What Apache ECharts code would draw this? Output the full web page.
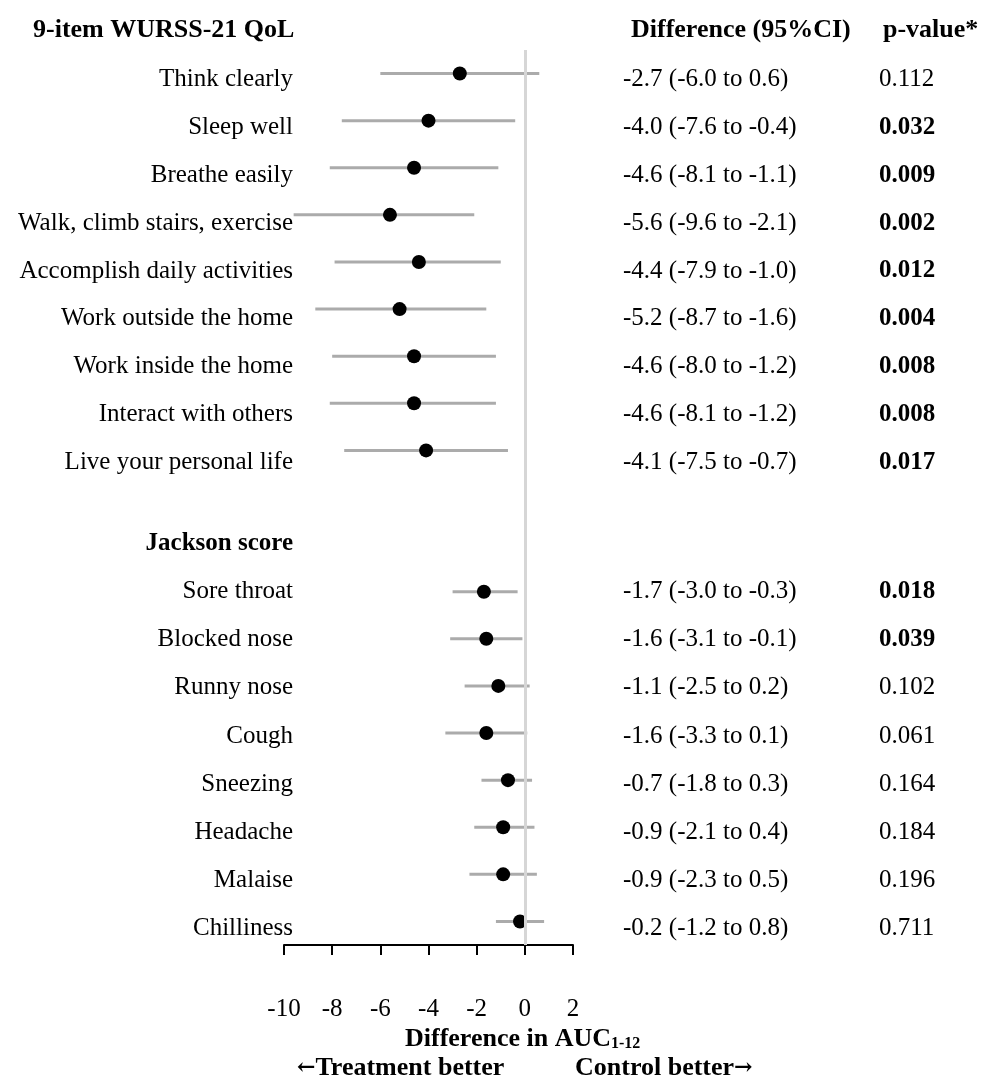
<!DOCTYPE html>
<html>
<head>
<meta charset="utf-8">
<script src="https://cdn.jsdelivr.net/npm/echarts@6/dist/echarts.min.js"></script>
<style>
html,body{margin:0;padding:0;background:#fff;}
#chart{width:992px;height:1076px;}
</style>
</head>
<body>
<div id="chart"></div>
<script>
// ---- data ----
const wurssItems = ['Think clearly','Sleep well','Breathe easily','Walk, climb stairs, exercise','Accomplish daily activities','Work outside the home','Work inside the home','Interact with others','Live your personal life'];
const jacksonItems = ['Sore throat','Blocked nose','Runny nose','Cough','Sneezing','Headache','Malaise','Chilliness'];
const estimates = [-2.7,-4.0,-4.6,-5.6,-4.4,-5.2,-4.6,-4.6,-4.1, -1.7,-1.6,-1.1,-1.6,-0.7,-0.9,-0.9,-0.2];
const lowerCI   = [-6.0,-7.6,-8.1,-9.6,-7.9,-8.7,-8.0,-8.1,-7.5, -3.0,-3.1,-2.5,-3.3,-1.8,-2.1,-2.3,-1.2];
const upperCI   = [ 0.6,-0.4,-1.1,-2.1,-1.0,-1.6,-1.2,-1.2,-0.7, -0.3,-0.1, 0.2, 0.1, 0.3, 0.4, 0.5, 0.8];
const pValues   = ['0.112','0.032','0.009','0.002','0.012','0.004','0.008','0.008','0.017', '0.018','0.039','0.102','0.061','0.164','0.184','0.196','0.711'];
const xTicks = [-10,-8,-6,-4,-2,0,2];
const headers = {group1:'9-item WURSS-21 QoL', group2:'Jackson score', diff:'Difference (95%CI)', p:'p-value*'};
const axisTitle = {main:'Difference in AUC', sub:'1-12', left:'Treatment better', right:'Control better'};

// ---- build rows ----
const nW = wurssItems.length;
const rows = wurssItems.concat(['', headers.group2], jacksonItems);
const rowOf = i => i < nW ? i : i + 2;
const diffStr = i => estimates[i].toFixed(1) + ' (' + lowerCI[i].toFixed(1) + ' to ' + upperCI[i].toFixed(1) + ')';
const pointData = estimates.map((e, i) => [e, rowOf(i)]);
const ciData = estimates.map((e, i) => [lowerCI[i], upperCI[i], rowOf(i)]);

// text tables (upper block: WURSS items; lower block: Jackson header + items)
const upperRows = wurssItems.slice();
const upperDiff = wurssItems.map((_, i) => diffStr(i));
const upperP = wurssItems.map((_, i) => pValues[i]);
const lowerRows = [headers.group2].concat(jacksonItems);
const lowerDiff = [''].concat(jacksonItems.map((_, j) => diffStr(nW + j)));
const lowerP = [''].concat(jacksonItems.map((_, j) => pValues[nW + j]));

const FONT = 'Liberation Serif';
const FS = 25;
const HFS = 26;
const black = '#000';
const pFmt = s => s === '' ? '' : (parseFloat(s) < 0.05 ? '{b|' + s + '}' : s);

function textAxes(gridIndex, cats, diffs, ps) {
  const base = {type: 'category', gridIndex: gridIndex, data: cats, inverse: true,
    axisLine: {show: false}, axisTick: {show: false}, splitLine: {show: false}};
  return [
    Object.assign({}, base, {position: 'left',
      axisLabel: {interval: 0, margin: -9, fontSize: FS, fontFamily: FONT, color: black,
        formatter: v => v === headers.group2 ? '{h|' + v + '}' : v,
        rich: {h: {fontSize: FS, fontFamily: FONT, fontWeight: 'bold', color: black}}}}),
    Object.assign({}, base, {position: 'right',
      axisLabel: {interval: 0, margin: 50, align: 'left', fontSize: FS, fontFamily: FONT, color: black,
        formatter: (v, i) => diffs[i]}}),
    Object.assign({}, base, {position: 'right',
      axisLabel: {interval: 0, margin: 306, align: 'left', fontSize: FS, fontFamily: FONT, color: black,
        formatter: (v, i) => pFmt(ps[i]),
        rich: {b: {fontSize: FS, fontFamily: FONT, fontWeight: 'bold', color: black}}}})
  ];
}

const boldText = {fontFamily: FONT, fontSize: HFS, fontWeight: 'bold', color: black};
const arrowText = {fontFamily: 'DejaVu Serif', fontSize: 22, fontWeight: 'bold', color: black};

const chart = echarts.init(document.getElementById('chart'));
chart.setOption({
  animation: false,
  backgroundColor: '#fff',
  textStyle: {fontFamily: FONT},
  title: [
    {text: headers.group1, left: 28, top: 12, textStyle: boldText},
    {text: headers.diff, left: 626, top: 12, textStyle: boldText},
    {text: headers.p, left: 878, top: 12, textStyle: boldText},
    {text: '{b|' + axisTitle.main + '}{s|' + axisTitle.sub + '}', left: 400, top: 1021,
     textStyle: {rich: {b: boldText, s: {fontFamily: FONT, fontSize: 16, fontWeight: 'bold', color: black, padding: [9,0,0,0]}}}},
    {text: '{a|\u2190}{b|' + axisTitle.left + '}', left: 292, top: 1050,
     textStyle: {rich: {a: arrowText, b: boldText}}},
    {text: '{b|' + axisTitle.right + '}{a|\u2192}', left: 570, top: 1050,
     textStyle: {rich: {a: arrowText, b: boldText}}}
  ],
  grid: [
    {left: 284, top: 50, width: 289, height: 895, containLabel: false, outerBoundsMode: 'none'},
    {left: 284, top: 56, width: 289, height: 430, containLabel: false, outerBoundsMode: 'none'},
    {left: 284, top: 519, width: 289, height: 434, containLabel: false, outerBoundsMode: 'none'}
  ],
  xAxis: [
    {type: 'value', gridIndex: 0, min: -10, max: 2, interval: 2,
     axisLine: {show: true, lineStyle: {color: black, width: 2}},
     axisTick: {show: true, length: 10, lineStyle: {color: black, width: 2}},
     axisLabel: {margin: 52, fontSize: FS, fontFamily: FONT, color: black,
                 customValues: xTicks, formatter: v => String(v)},
     splitLine: {show: false}},
    {type: 'value', gridIndex: 1, min: 0, max: 1, show: false},
    {type: 'value', gridIndex: 2, min: 0, max: 1, show: false}
  ],
  yAxis: [
    {type: 'category', gridIndex: 0, data: rows, inverse: true,
     axisLine: {show: false}, axisTick: {show: false}, splitLine: {show: false}, axisLabel: {show: false}}
  ].concat(textAxes(1, upperRows, upperDiff, upperP), textAxes(2, lowerRows, lowerDiff, lowerP)),
  series: [
    {type: 'line', xAxisIndex: 0, yAxisIndex: 0, data: [], z: 1, silent: true,
     markLine: {silent: true, symbol: ['none','none'], label: {show: false},
                lineStyle: {color: '#d6d6d6', width: 3, type: 'solid'},
                data: [{xAxis: 0}]}},
    {type: 'custom', xAxisIndex: 0, yAxisIndex: 0, z: 2, silent: true, data: ciData,
     encode: {x: [0, 1], y: 2},
     renderItem: (params, api) => {
       const y = api.value(2);
       const p1 = api.coord([api.value(0), y]);
       const p2 = api.coord([api.value(1), y]);
       return {type: 'line', shape: {x1: p1[0], y1: p1[1], x2: p2[0], y2: p2[1]},
               style: {stroke: '#ababab', lineWidth: 3}};
     }},
    {type: 'scatter', xAxisIndex: 0, yAxisIndex: 0, z: 3, data: pointData, symbol: 'circle', symbolSize: 14,
     itemStyle: {color: black, opacity: 1}}
  ]
});
</script>
</body>
</html>
